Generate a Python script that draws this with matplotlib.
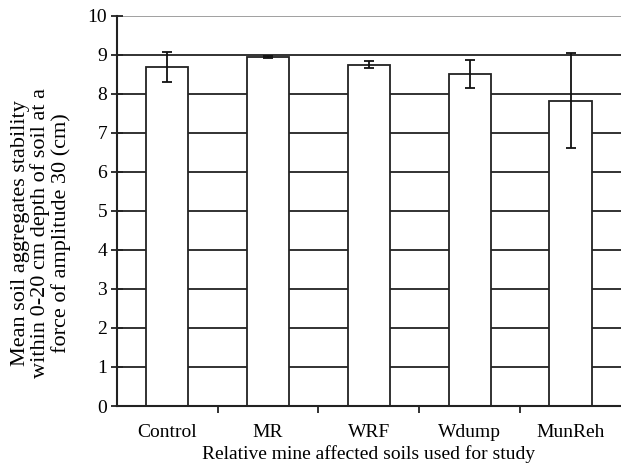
import matplotlib.pyplot as plt
import numpy as np

# soil aggregate stability (mean and error) per site
sites = ['Control', 'MR', 'WRF', 'Wdump', 'MunReh']
means = [8.68, 8.94, 8.74, 8.50, 7.82]
errors = [0.39, 0.02, 0.09, 0.36, 1.21]

plt.rcParams['font.family'] = ['Liberation Serif', 'DejaVu Serif']

fig = plt.figure(figsize=(6.21, 4.71), dpi=100)
ax = fig.add_axes([0.188, 0.138, 0.812, 0.829])

x = np.arange(len(sites))
ax.bar(x, means, width=0.42, color='white', edgecolor='#222222', linewidth=1.3, zorder=3)
ax.errorbar(x, means, yerr=errors, fmt='none', ecolor='#111111', elinewidth=1.3,
            capsize=3.5, capthick=1.3, zorder=4)

# grid lines at each integer, top one lighter like the plot border
for v in range(1, 10):
    ax.axhline(v, color='#222222', linewidth=1.3, zorder=1)
ax.axhline(10, color='#999999', linewidth=1.3, zorder=1)

ax.set_xlim(-0.5, len(sites) - 0.5)
ax.set_ylim(0, 10)
ax.set_yticks(range(0, 11))
ax.set_xticks(x)
ax.set_xticklabels(sites, fontsize=14)
ax.set_xticks(np.arange(0.5, len(sites) - 0.5, 1), minor=True)
ax.tick_params(axis='x', which='major', length=0, pad=13)
ax.tick_params(axis='x', which='minor', length=5, width=1.3, direction='out', color='#222222')
ax.tick_params(axis='y', length=8, width=1.3, direction='inout', labelsize=14, pad=3, color='#222222')

for s in ['top', 'right']:
    ax.spines[s].set_visible(False)
for s in ['left', 'bottom']:
    ax.spines[s].set_linewidth(1.5)
    ax.spines[s].set_color('#222222')
    ax.spines[s].set_zorder(5)

fig.text(41 / 621, 1 - 233 / 471,
         'Mean soil aggregates stability\nwithin 0-20 cm depth of soil at a\nforce of amplitude 30 (cm)',
         rotation=90, ha='center', va='center', multialignment='center',
         fontsize=16, linespacing=1.05)
ax.set_xlabel('Relative mine affected soils used for study', fontsize=14, labelpad=3)

fig.savefig('out.png', dpi=100)
